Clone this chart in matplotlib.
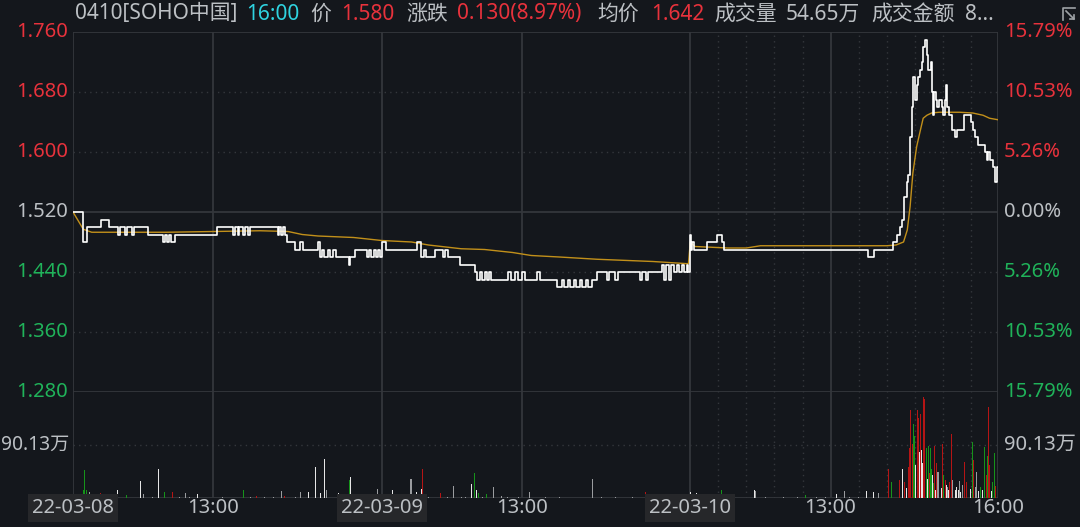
import matplotlib
matplotlib.use('Agg')
import matplotlib.pyplot as plt

# ---------------- data ----------------
# minute index across 3 sessions (330 trading minutes per day)
price_t = [0, 11, 15, 30, 38, 48, 50, 56, 58, 63, 65, 80, 96, 98, 100, 103, 105, 109, 154, 171,
           173, 176, 178, 182, 184, 187, 189, 219, 220, 222, 225, 227, 229, 237, 243, 246, 262, 264,
           266, 268, 273, 275, 278, 281, 295, 296, 302, 314, 316, 319, 322, 324, 326, 328,
           330, 335, 368, 372, 375, 377, 387, 396, 398, 401, 414, 430, 432, 435, 437, 441, 443,
           445, 447, 465, 468, 473, 476, 480, 483, 496, 499, 517, 523, 525, 529, 531, 536, 538,
           542, 544, 549, 551, 555, 560, 571, 573, 580, 583, 606, 608, 613, 615, 630, 632, 634,
           637, 639, 643, 646, 648, 651, 653, 656, 658,
           660, 661, 662, 664, 678, 689, 694, 696, 850, 856, 877, 881, 884, 886, 889, 892, 893,
           895, 897, 898, 900, 902, 903, 906, 908, 909, 911, 913, 914, 917, 918, 919, 921, 923,
           924, 926, 929, 930, 932, 933, 934, 937, 940, 943, 945, 953, 960, 962, 964, 968, 975,
           977, 978, 980, 984, 986, 988, 989]
price_v = [1.520, 1.480, 1.500, 1.510, 1.500, 1.490, 1.500, 1.490, 1.500, 1.490, 1.500, 1.490,
           1.480, 1.490, 1.480, 1.490, 1.480, 1.490, 1.500, 1.490,
           1.500, 1.490, 1.500, 1.490, 1.500, 1.490, 1.500, 1.490, 1.500, 1.490, 1.500, 1.490,
           1.480, 1.470, 1.480, 1.470, 1.480, 1.460,
           1.470, 1.460, 1.470, 1.460, 1.470, 1.460, 1.450, 1.460, 1.470, 1.460, 1.470, 1.460,
           1.470, 1.460, 1.470, 1.460,
           1.480, 1.470, 1.480, 1.460, 1.470, 1.460, 1.470, 1.460, 1.470, 1.460, 1.450, 1.440,
           1.430, 1.440, 1.430, 1.440, 1.430,
           1.440, 1.430, 1.440, 1.430, 1.440, 1.430, 1.440, 1.430, 1.440, 1.430, 1.420, 1.430,
           1.420, 1.430, 1.420, 1.430, 1.420,
           1.430, 1.420, 1.430, 1.420, 1.430, 1.440, 1.430, 1.440, 1.430, 1.440, 1.430, 1.440,
           1.430, 1.440, 1.450, 1.430, 1.450,
           1.430, 1.450, 1.440, 1.450, 1.440, 1.450, 1.440, 1.450, 1.440,
           1.490, 1.470, 1.480, 1.470, 1.480, 1.490, 1.480, 1.470, 1.460, 1.470, 1.480, 1.490,
           1.500, 1.510, 1.540, 1.560, 1.570,
           1.620, 1.660, 1.700, 1.670, 1.690, 1.700, 1.710, 1.720, 1.740, 1.750, 1.730, 1.710,
           1.720, 1.680, 1.650, 1.680, 1.670,
           1.660, 1.670, 1.660, 1.650, 1.670, 1.690, 1.660, 1.650, 1.630, 1.620, 1.630, 1.650,
           1.640, 1.630, 1.620, 1.610, 1.600,
           1.590, 1.600, 1.590, 1.580, 1.560, 1.580, 1.580]

avg_t = [0, 11, 20, 100, 200, 230, 245, 262, 300, 330, 362, 380, 415, 440, 470, 490, 520, 560,
         600, 620, 658, 660, 665, 700, 720, 735, 870, 880, 888, 892, 895, 898, 902, 906, 909,
         913, 918, 926, 948, 962, 973, 980, 989]
avg_v = [1.520, 1.497, 1.493, 1.493, 1.495, 1.494, 1.490, 1.488, 1.486, 1.482, 1.480, 1.476,
         1.471, 1.470, 1.466, 1.462, 1.460, 1.457, 1.455, 1.454, 1.451, 1.480, 1.474, 1.472,
         1.472, 1.475, 1.475, 1.476, 1.480, 1.496, 1.527, 1.572, 1.607, 1.629, 1.645, 1.649,
         1.652, 1.653, 1.653, 1.652, 1.649, 1.645, 1.643]

# volume bars (unit: 万 shares); colour: r=up, g=down, w=white, s=grey
vol_t = [11, 12, 14, 15, 18, 19, 29, 48, 57, 72, 75, 91, 98, 106, 109, 120, 133, 182, 196, 223,
         226, 232, 243, 252, 259, 265, 269, 271, 284, 288, 296, 297, 304, 326, 329,
         342, 352, 361, 362, 367, 373, 374, 393, 407, 426, 429, 431, 434, 442, 447, 450, 458,
         488, 555, 612, 660, 667, 693, 729, 730, 783, 816, 825, 848, 856, 861,
         872, 875, 882, 884, 887, 889, 891, 893, 894, 895, 896, 897, 898, 899, 900, 901, 903,
         904, 905, 906, 907, 908, 909, 910, 911, 912, 913, 914, 915, 916, 917, 918, 919, 920,
         921, 922, 923, 924, 925, 927, 928, 929, 930, 931, 933, 934, 935, 936, 937, 939, 940,
         942, 944, 945, 947, 948, 949, 951, 953, 955, 957, 958, 960, 962, 963, 965, 966, 968,
         970, 972, 973, 975, 977, 978, 979, 980, 982, 983, 985, 986, 988, 989]
vol_v = [14, 47, 14, 22, 10, 7, 8, 14, 5, 29, 7, 50, 11, 10, 4, 8, 6, 14, 3, 12,
         4, 53, 10, 10, 52, 9, 66, 13, 9, 5, 30, 35, 3, 16, 4,
         13, 5, 33, 33, 11, 15, 50, 8, 20, 23, 43, 14, 9, 7, 18, 18, 3,
         11, 33, 10, 10, 9, 13, 14, 12, 5, 6, 12, 12, 10, 9,
         50, 28, 22, 31, 50, 28, 17, 53, 85, 150, 79, 181, 92, 125, 105, 56, 150,
         136, 79, 142, 82, 60, 172, 168, 88, 136, 85, 33, 88, 42, 85, 50, 39, 25,
         88, 13, 60, 44, 44, 124, 79, 17, 92, 39, 31, 22, 18, 13, 28, 109, 31,
         31, 13, 19, 13, 29, 10, 22, 61, 28, 22, 30, 16, 95, 65, 19, 44, 12,
         19, 14, 10, 86, 39, 71, 154, 56, 12, 28, 77, 20, 12, 60]
vol_c = ['g', 'g', 'g', 's', 's', 's', 'r', 'w', 'g', 'w', 's', 'w', 'g', 'r', 's', 's', 'w', 'g', 'r', 's',
         'r', 's', 's', 'w', 'w', 'w', 'w', 's', 'w', 'g', 'g', 'w', 's', 's', 's',
         'w', 'w', 's', 's', 'w', 'w', 'r', 'r', 's', 'w', 'g', 'w', 'g', 'g', 's', 's', 's',
         's', 's', 'r', 'w', 'w', 'g', 'w', 's', 'g', 'w', 's', 'w', 'w', 's',
         'r', 'g', 'r', 'r', 'w', 'r', 'w', 'r', 'r', 'r', 'g', 'r', 'r', 'g', 'g', 'w', 'r',
         'r', 'w', 'r', 'w', 'w', 'r', 'r', 'w', 'r', 'g', 'w', 'g', 'r', 'g', 'g', 'w', 'g',
         'r', 'w', 'r', 's', 's', 'g', 'g', 'w', 'r', 'g', 'r', 'w', 's', 'w', 'r', 'r', 's',
         's', 'w', 'w', 'w', 's', 'w', 's', 'r', 'r', 'g', 's', 'w', 'g', 'r', 's', 's', 'w',
         'g', 'w', 'r', 'g', 'r', 'g', 'r', 'r', 'w', 'g', 'g', 'r', 'g', 'r']

# small base-level trades
small_t = [3, 22, 35, 40, 62, 85, 114, 125, 140, 160, 170, 190, 205, 214, 238, 248, 277, 290,
           310, 318, 336, 348, 357, 380, 386, 400, 415, 420, 438, 465, 476, 495, 505, 520, 540,
           565, 580, 598, 625, 640, 676, 700, 712, 740, 760, 775, 795, 805, 830, 840, 865]
small_v = [2, 2, 1.5, 2, 1.5, 2, 2, 1.5, 2, 2, 1.5, 2, 2, 1.5, 2, 2, 1.5, 2,
           2, 1.5, 2, 2, 1.5, 2, 2, 1.5, 2, 2, 1.5, 2, 2, 1.5, 2, 2, 1.5,
           2, 2, 1.5, 2, 2, 1.5, 2, 2, 1.5, 2, 2, 1.5, 2, 2, 1.5, 2]

left_ticks = [1.760, 1.680, 1.600, 1.520, 1.440, 1.360, 1.280]
left_labels = ['1.760', '1.680', '1.600', '1.520', '1.440', '1.360', '1.280']
right_labels = ['15.79%', '10.53%', '5.26%', '0.00%', '5.26%', '10.53%', '15.79%']
vol_tick = 90.13
vol_label = '90.13万'
x_ticks = [0, 150, 330, 480, 660, 810, 989]
x_labels = ['22-03-08', '13:00', '22-03-09', '13:00', '22-03-10', '13:00', '16:00']
dotted_x = [690, 720, 750, 780, 840, 870, 900, 930, 960]

# ---------------- style ----------------
W, H = 1080, 527
BG = '#14171c'
GRID = '#34373c'
TXT = '#bcc0c4'
RED = '#e8323c'
GREEN = '#20b35a'
CYAN = '#2fd3e0'
GOLD = '#c2901a'
VCOL = {'r': '#b51515', 'g': '#16931a', 'w': '#e6e6e6', 's': '#9a9c9f'}

plt.rcParams['font.family'] = ['Noto Sans', 'Noto Sans CJK SC']
FS = 14.5
FS_H = 15

fig = plt.figure(figsize=(W / 100, H / 100), dpi=100, facecolor=BG)

x0, x1 = 73, 998
yp0, yp1 = 32, 392
yv0, yv1 = 392, 498


def fx(px):
    return px / W


def fy(py):
    return 1 - py / H


axp = fig.add_axes([fx(x0), fy(yp1), fx(x1) - fx(x0), fy(yp0) - fy(yp1)])
axv = fig.add_axes([fx(x0), fy(yv1), fx(x1) - fx(x0), fy(yv0) - fy(yv1)])
for ax in (axp, axv):
    ax.set_facecolor(BG)
    for s in ax.spines.values():
        s.set_visible(False)
    ax.set_xticks([])
    ax.set_yticks([])
    ax.set_xlim(0, 989)

axp.set_ylim(1.280, 1.760)
axv.set_ylim(0, 2 * vol_tick)

# grids
for i, lv in enumerate(left_ticks):
    if lv in (1.760, 1.520, 1.280):
        axp.axhline(lv, color=GRID, lw=1.3, zorder=1)
    else:
        axp.axhline(lv, color=GRID, lw=1.0, ls=(0, (1, 3)), zorder=1)
axv.axhline(vol_tick, color=GRID, lw=1.0, ls=(0, (1, 3)), zorder=1)
axv.axhline(0, color=GRID, lw=1.3, zorder=1)
for xv in x_ticks:
    for ax in (axp, axv):
        ax.axvline(xv, color=GRID, lw=1.3, zorder=1)
for xv in dotted_x:
    for ax in (axp, axv):
        ax.axvline(xv, color=GRID, lw=1.0, ls=(0, (1, 3)), zorder=1)

# price & average
axp.plot(avg_t, avg_v, color=GOLD, lw=1.0, zorder=3)
axp.plot(price_t, price_v, color='white', lw=1.2, drawstyle='steps-post', zorder=4)

# volume
axv.bar(small_t, small_v, width=0.9, color=VCOL['s'], linewidth=0, zorder=2)
axv.bar(vol_t, vol_v, width=0.9, color=[VCOL[c] for c in vol_c], linewidth=0, zorder=2)

# left / right labels
for lv, ll, rl in zip(left_ticks, left_labels, right_labels):
    py = yp0 + (1.760 - lv) / 0.480 * (yp1 - yp0)
    if lv > 1.520:
        lc = RED
    elif lv < 1.520:
        lc = GREEN
    else:
        lc = TXT
    fig.text(fx(68), fy(py), ll, color=lc, fontsize=FS, ha='right', va='center')
    fig.text(fx(1004), fy(py), rl, color=lc, fontsize=FS, ha='left', va='center')
vy = yv1 - vol_tick / (2 * vol_tick) * (yv1 - yv0)
fig.text(fx(1), fy(vy), vol_label, color=TXT, fontsize=13.8, ha='left', va='center')
fig.text(fx(1004), fy(vy), vol_label, color=TXT, fontsize=FS, ha='left', va='center')

# bottom labels
for xv, lab in zip(x_ticks, x_labels):
    px = x0 + xv / 989 * (x1 - x0)
    if '-' in lab:
        fig.text(fx(px), fy(508), lab, color=TXT, fontsize=FS, ha='center', va='center',
                 bbox=dict(boxstyle='square,pad=0.2', fc='#26272a', ec='none'))
    else:
        fig.text(fx(px), fy(508), lab, color=TXT, fontsize=FS, ha='center', va='center')

# header
header = [(75, '0410[SOHO中国]', TXT), (246, '16:00', CYAN), (310, '价', TXT),
          (341, '1.580', RED), (406, '涨跌', TXT), (457, '0.130(8.97%)', RED),
          (597, '均价', TXT), (651, '1.642', RED), (714, '成交量', TXT),
          (786, '54.65万', TXT), (871, '成交金额', TXT), (965, '8...', TXT)]
for px, s, c in header:
    fig.text(fx(px), fy(14), s, color=c, fontsize=FS_H, ha='left', va='center')

# top-right expand icon
icon = '#9ea2a6'
fig.add_artist(plt.Line2D([fx(1063), fx(1063), fx(1075)], [fy(20), fy(8), fy(8)],
                          color=icon, lw=1.2))
fig.add_artist(plt.Line2D([fx(1066), fx(1074)], [fy(11), fy(19)], color=icon, lw=1.2))
fig.add_artist(plt.Line2D([fx(1070), fx(1074), fx(1074)], [fy(19), fy(19), fy(15)],
                          color=icon, lw=1.2))

fig.savefig('out.png', dpi=100, facecolor=BG)
